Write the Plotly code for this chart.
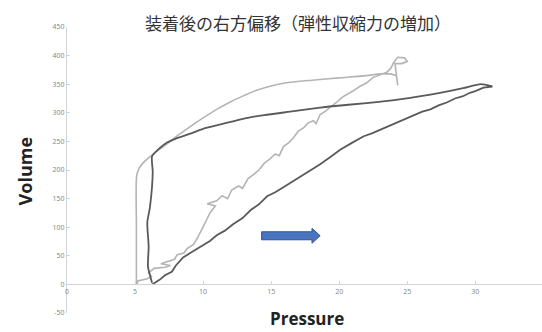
import plotly.graph_objects as go

# ---- data ----
# light-gray loop: jagged inflation limb (P = pressure, V = volume)
light_up_p = [5.15, 5.2, 5.9, 6.2, 6.0, 6.4, 7.2, 7.6, 6.9, 7.5, 7.9, 8.1, 8.6, 8.8, 9.3, 9.6, 9.9,
              10.2, 10.5, 10.9, 10.3, 11.0, 11.4, 11.8, 12.1, 12.6, 12.9, 13.3, 13.7, 14.1, 14.5,
              14.9, 15.3, 15.6, 15.9, 16.3, 16.6, 17.0, 17.4, 17.7, 18.1, 18.3, 18.6, 19.0, 19.4,
              19.8, 20.2, 20.6, 21.0, 21.5, 22.0, 22.5, 22.9, 23.5, 23.8, 24.0, 24.3, 24.8, 25.0,
              24.6, 24.1, 24.2, 24.3, 24.2, 23.8, 23.0]
light_up_v = [0, 6, 10, 14, 20, 28, 30, 33, 36, 40, 44, 52, 55, 62, 70, 82, 95,
              110, 125, 137, 141, 146, 155, 150, 165, 172, 168, 185, 192, 200, 212,
              219, 228, 225, 241, 248, 255, 268, 274, 282, 286, 281, 297, 303, 311,
              318, 327, 332, 338, 346, 352, 362, 366, 371, 378, 388, 397, 396, 390,
              386, 386, 370, 348, 365, 368, 368]
# light-gray loop: smooth deflation limb
light_down_p = [23.0, 22.0, 20.0, 18.0, 16.0, 15.0, 14.0, 13.0, 12.0, 11.0, 10.0, 9.0, 8.0,
                7.2, 6.4, 5.7, 5.3, 5.12, 5.1, 5.1]
light_down_v = [368, 365, 361, 357, 352, 347, 340, 330, 319, 306, 291, 275, 258,
                243, 229, 215, 203, 190, 100, 0]

# dark-gray loop: inflation limb
dark_up_p = [6.25, 6.8, 7.2, 7.7, 8.0, 8.53, 9.2, 9.78, 10.5, 11.0, 11.6, 12.2, 12.9, 13.5,
             14.1, 14.7, 15.3, 15.9, 16.5, 17.1, 17.8, 18.6, 19.3, 20.1, 20.9, 21.8, 22.4,
             23.0, 23.7, 24.3, 24.9, 25.5, 26.1, 26.7, 27.3, 27.9, 28.5, 29.1, 29.6, 30.0,
             30.6, 31.25]
dark_up_v = [0, 8, 16, 22, 33, 47, 57, 66, 76, 86, 94, 105, 116, 130,
             140, 154, 161, 170, 179, 187, 197, 210, 222, 236, 247, 259, 264,
             270, 278, 283, 290, 295, 302, 306, 313, 318, 325, 329, 335, 338,
             344, 346]
# dark-gray loop: deflation limb
dark_down_p = [31.25, 30.4, 29.1, 27.4, 26.0, 24.3, 22.0, 19.3, 18.6, 16.4, 14.5, 13.0, 11.5,
               10.0, 9.0, 8.0, 7.35, 6.8, 6.25, 6.3, 6.1, 5.9, 6.0, 5.95, 6.25]
dark_down_v = [346, 350, 343, 335, 329, 323, 317, 311, 309, 302, 296, 290, 281,
               272, 263, 255, 248, 238, 224, 196, 136, 108, 66, 31, 3]

# blue arrow (pressure from -> to, at volume level)
arrow_p0, arrow_p1, arrow_v = 14.3, 18.6, 85

x_ticks = [0, 5, 10, 15, 20, 25, 30, 35]
y_ticks = [-50, 0, 50, 100, 150, 200, 250, 300, 350, 400, 450]

title_text = "装着後の右方偏移（弾性収縮力の増加）"
x_title = "Pressure"
y_title = "Volume"

LIGHT = "#b4b4b4"
DARK = "#5a5a5a"

# ---- figure ----
fig = go.Figure()
fig.add_trace(go.Scatter(x=light_up_p, y=light_up_v, mode="lines",
                         line=dict(color=LIGHT, width=1.6), hoverinfo="skip"))
fig.add_trace(go.Scatter(x=light_down_p, y=light_down_v, mode="lines",
                         line=dict(color=LIGHT, width=1.6, shape="spline", smoothing=0.8),
                         hoverinfo="skip"))
fig.add_trace(go.Scatter(x=dark_up_p, y=dark_up_v, mode="lines",
                         line=dict(color=DARK, width=1.8), hoverinfo="skip"))
fig.add_trace(go.Scatter(x=dark_down_p, y=dark_down_v, mode="lines",
                         line=dict(color=DARK, width=1.8, shape="spline", smoothing=0.6),
                         hoverinfo="skip"))

# arrow polygon built from the arrow data (sizes in data units)
shaft_h, head_h, head_l = 7, 13, 0.6
ax_poly = [arrow_p0, arrow_p1 - head_l, arrow_p1 - head_l, arrow_p1,
           arrow_p1 - head_l, arrow_p1 - head_l, arrow_p0, arrow_p0]
ay_poly = [arrow_v + shaft_h, arrow_v + shaft_h, arrow_v + head_h, arrow_v,
           arrow_v - head_h, arrow_v - shaft_h, arrow_v - shaft_h, arrow_v + shaft_h]
fig.add_trace(go.Scatter(x=ax_poly, y=ay_poly, mode="lines", fill="toself",
                         fillcolor="#4a74c0", line=dict(color="#2f5597", width=1),
                         hoverinfo="skip"))

fig.update_layout(
    width=542, height=332,
    margin=dict(l=67, r=0, t=27, b=19),
    paper_bgcolor="white", plot_bgcolor="white",
    showlegend=False,
    font=dict(family="Noto Sans, Noto Sans CJK JP, sans-serif"),
)
fig.update_xaxes(
    range=[0, 34.9], tickvals=x_ticks, ticktext=[str(t) for t in x_ticks],
    showgrid=False, zeroline=False,
    showline=True, linecolor="#d4d4d4", linewidth=1,
    anchor="free", position=0.1,
    ticks="inside", ticklen=3, tickcolor="#d4d4d4",
    tickfont=dict(size=7, color="#8a8a8a"),
)
fig.update_yaxes(
    range=[-50, 450], tickvals=y_ticks, ticktext=[str(t) for t in y_ticks],
    showgrid=False, zeroline=False,
    showline=True, linecolor="#d4d4d4", linewidth=1,
    ticks="inside", ticklen=3, tickcolor="#d4d4d4",
    tickfont=dict(size=7, color="#8a8a8a"),
)

fig.add_annotation(text=title_text, xref="paper", yref="paper", x=0.487, y=1.0,
                   yshift=5, xanchor="center", yanchor="middle", showarrow=False,
                   font=dict(family="Noto Sans CJK JP", size=17, color="#333333"))
fig.add_annotation(text="<b>" + x_title + "</b>", xref="paper", yref="paper",
                   x=0.506, y=0, yshift=-18, xanchor="center", yanchor="bottom",
                   borderpad=0,
                   showarrow=False, font=dict(family="Open Sans", size=17, color="#222222"))
fig.add_annotation(text="<b>" + y_title + "</b>", xref="paper", yref="paper",
                   x=0, xshift=-42, y=0.495, xanchor="center", yanchor="middle",
                   textangle=-90, showarrow=False,
                   font=dict(family="Open Sans", size=18, color="#222222"))

fig.write_html("out.html", config={"displayModeBar": False},
               post_script="document.body.style.margin='0';")
